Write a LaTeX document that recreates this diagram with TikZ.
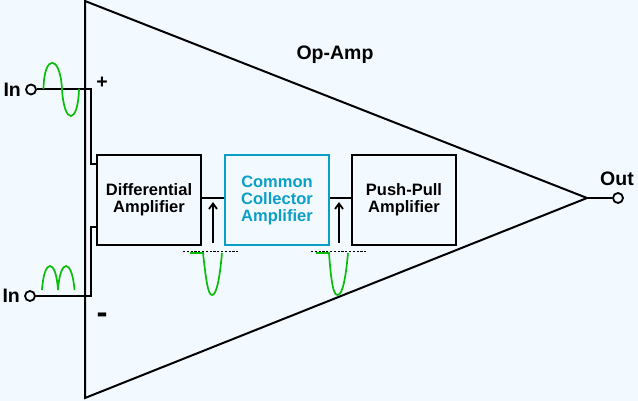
\documentclass[tikz,border=0pt]{standalone}
\usepackage{fontspec}
\setmainfont{Liberation Sans}
\usetikzlibrary{arrows.meta}
\definecolor{paper}{HTML}{F3FAFF}
\definecolor{stage}{HTML}{0A9FC6}
\definecolor{wave}{HTML}{08BE08}
\tikzset{
  wire/.style={line width=2pt},
  ampbox/.style={draw,line width=2pt,fill=paper,minimum width=104pt,minimum height=90pt,align=center,inner sep=0pt,font=\fontsize{16.5}{17}\selectfont\bfseries},
  pin/.style={draw,circle,line width=1.8pt,fill=paper,minimum size=10pt,inner sep=0pt},
  tag/.style={font=\fontsize{19.5}{21}\selectfont\bfseries,inner sep=0pt},
  trace/.style={wave,line width=1.7pt},
  level/.style={line width=0.9pt,dash pattern=on 2.2pt off 1.6pt},
  signal/.style={-{Straight Barb[length=5.5pt,width=8pt]},line width=1.8pt}
}
\begin{document}
\begin{tikzpicture}[x=1pt,y=-1pt]
\useasboundingbox[fill=paper] (0,0) rectangle (638,401);
% triangle
\coordinate (apexA) at (85,1);
\coordinate (apexB) at (587,198);
\coordinate (apexC) at (85,398);
\draw[wire,line join=miter] (apexA) -- (apexB) -- (apexC) -- cycle;
% amplifier stages
\node[ampbox] (diff) at (149,200) {Differential\\Amplifier};
\node[ampbox,draw=stage,text=stage] (coll) at (277,200) {Common\\Collector\\Amplifier};
\node[ampbox] (push) at (404,200) {Push-Pull\\Amplifier};
\draw[wire] (diff.east |- 0,198) -- (coll.west |- 0,198);
\draw[wire] (coll.east |- 0,198) -- (push.west |- 0,198);
% pins
\node[pin] (inA) at (31,89.5) {};
\node[pin] (inB) at (30,296) {};
\node[pin] (outp) at (618,198) {};
\draw[wire] (apexB) -- (outp);
\node[tag,anchor=east] (inAtxt) at ([xshift=-4pt]inA.west) {In};
\node[tag,anchor=east] (inBtxt) at ([xshift=-4pt]inB.west) {In};
\node[tag] (outtxt) at (617,179) {Out};
\node[tag] (optxt) at (335,55) {Op-Amp};
\node[tag] (plus) at (102,83) {+};
\node[tag,font=\fontsize{33}{33}\selectfont\bfseries] (minus) at (102,318) {-};
% input wires
\coordinate (dropA) at (97,164);
\coordinate (dropB) at (97,227);
\draw[wire] (inA) -- (91,89.5) -- (91,164) -- (dropA);
\draw[wire] (inB) -- (91,296) -- (91,227) -- (dropB);
% input waves
\draw[trace] (43.5,89) .. controls (44,54) and (60,54) .. (62,89) .. controls (64,125) and (78,125) .. (79,89);
\draw[trace] (42,290) .. controls (44,258) and (56,258) .. (58,290) .. controls (60,258) and (72,258) .. (74.5,290);
% probes
\coordinate (probeA) at (213,243);
\coordinate (tipA) at (213,202);
\coordinate (probeB) at (339,243);
\coordinate (tipB) at (339,202);
\draw[signal] (probeA) -- (tipA);
\draw[signal] (probeB) -- (tipB);
\draw[level] (183,251.5) -- (238,251.5);
\draw[level] (311,251.5) -- (366,251.5);
\draw[trace] (190,253) -- (203,253) .. controls (206,280) and (208,295) .. (212,295) .. controls (217,295) and (220,275) .. (222,253);
\draw[trace] (316,253) -- (329,253) .. controls (331,280) and (333,295) .. (337.5,295) .. controls (343,295) and (346,275) .. (348,253);
\end{tikzpicture}
\end{document}
